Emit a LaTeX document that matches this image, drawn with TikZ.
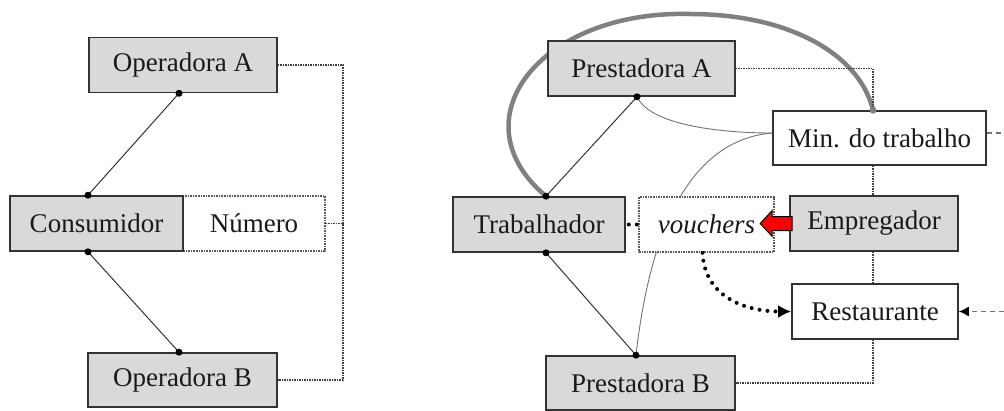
\documentclass[tikz,border=0pt]{standalone}
\usepackage{fontspec}
\setmainfont{Liberation Serif}
\usetikzlibrary{arrows.meta}
\pgfdeclarelayer{bg}
\pgfsetlayers{bg,main}
\begin{document}
\begin{tikzpicture}[x=1pt,y=-1pt,
  box/.style={draw=black!80, line width=1.6pt, fill=black!15, minimum height=55pt,
    inner sep=0pt, font=\fontsize{27}{32}\selectfont, text=black!90},
  wbox/.style={box, fill=white},
  dbox/.style={box, draw=black!65, densely dotted, line width=1.5pt, fill=white},
  conn/.style={draw=black!80, line width=1pt},
  dotline/.style={draw=black!75, line width=1.5pt, densely dotted},
  thincurve/.style={draw=black!55, line width=0.9pt},
  bigcurve/.style={draw=black!50, line width=4.5pt},
  bigdots/.style={draw=black, line width=4pt, line cap=round, dash pattern=on 0pt off 8pt},
  dashline/.style={draw=black!55, line width=1.4pt, dash pattern=on 5pt off 4pt},
  redarrow/.style={fill=red, draw=black, line width=1pt, line join=miter},
]
\useasboundingbox (0,0) rectangle (1004,410);

% ---------- left diagram ----------
\node[box, minimum width=188pt] (opA) at (183,65) {Operadora A};
\node[dbox, minimum width=142pt] (num) at (254,223.5) {Número};
\node[box, minimum width=173pt] (cons) at (96.5,223.5) {Consumidor};
\node[box, minimum width=189pt, minimum height=54pt] (opB) at (182.5,380) {Operadora B};

\coordinate (opAs) at ([xshift=-4pt]opA.south);
\coordinate (consN) at ([xshift=-8.5pt]cons.north);
\coordinate (consS) at ([xshift=-8.5pt]cons.south);
\coordinate (opBn) at ([xshift=-3.5pt]opB.north);
\coordinate (bk) at (343,223.5);

\draw[conn] (opAs) -- (consN);
\draw[conn] (consS) -- (opBn);
\draw[dotline] (opA.east) -| (bk) |- (opB.east);
\draw[dotline] (num.east) -- (bk);
\foreach \p in {opAs,consN,consS,opBn} \fill[black] (\p) circle (3.5pt);

% ---------- right diagram ----------
\node[box, minimum width=187pt] (pa) at (641.5,68.5) {Prestadora A};
\node[wbox, minimum width=213pt, minimum height=54pt] (min) at (879.5,138) {Min. do trabalho};
\node[box, minimum width=172pt] (trab) at (539,224.5) {Trabalhador};
\node[dbox, minimum width=135pt] (vou) at (706.5,224.5) {\itshape vouchers};
\node[box, minimum width=168pt] (emp) at (874,223.5) {Empregador};
\node[wbox, minimum width=166pt] (rest) at (875,311.5) {Restaurante};
\node[box, minimum width=189pt, minimum height=54pt] (pb) at (640.5,383) {Prestadora B};

\coordinate (paS) at ([xshift=-4.5pt]pa.south);
\coordinate (trabN) at ([xshift=7pt]trab.north);
\coordinate (trabS) at ([xshift=7pt]trab.south);
\coordinate (pbN) at ([xshift=-4.5pt]pb.north);
\coordinate (minL) at ([yshift=5pt]min.west);
\coordinate (minR) at ([yshift=5pt]min.east);
\coordinate (minN) at ([xshift=-6.5pt]min.north);
\coordinate (vx) at (873,0);
\coordinate (edgeA) at (1004,133);
\coordinate (edgeB) at (1004,311.5);

\begin{pgfonlayer}{bg}
  \draw[bigcurve] (trabN) .. controls (455,120) and (540,10) .. (690,14)
                   .. controls (790,14) and (860,55) .. (minN);
  \draw[thincurve] (pbN) .. controls (650,230) and (690,140) .. (minL);
\end{pgfonlayer}

\draw[thincurve] (paS) .. controls (650,125) and (720,133) .. (minL);
\draw[conn] (paS) -- (trabN);
\draw[conn] (trabS) -- (pbN);

\draw[dotline] (pa.east) -| (vx |- min.north);
\draw[dotline] (vx |- min.south) -- (vx |- emp.north);
\draw[dotline] (vx |- emp.south) -- (vx |- rest.north);
\draw[dotline] (vx |- rest.south) |- (pb.east);

\draw[dashline] (minR) -- (edgeA);
\draw[dashline, -{Latex[length=10pt,width=10pt,color=black]}] (edgeB) -- (rest.east);

\draw[bigdots] ([xshift=3pt]trab.east) -- (vou.west);
\draw[bigdots, -{Latex[length=13pt,width=13pt]}] ([xshift=-4pt]vou.south)
   .. controls (705,300) and (750,311.5) .. (rest.west);

\draw[redarrow, shift={(emp.west)}] (3,-7) -- (-17,-7) -- (-17,-13) -- (-29,0)
   -- (-17,13) -- (-17,7) -- (3,7) -- cycle;

\foreach \p in {paS,trabN,trabS,pbN} \fill[black] (\p) circle (3.5pt);
\fill[black!50] (minN) circle (3.5pt);
\end{tikzpicture}
\end{document}
